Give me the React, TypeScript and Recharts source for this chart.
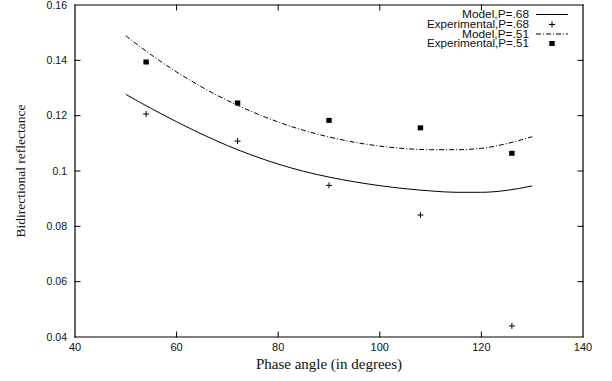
import React from "react";
import { ComposedChart, Line, Scatter, XAxis, YAxis, Legend } from "recharts";

// model curves sampled every 5 degrees
const modelAngles = [50, 55, 60, 65, 70, 75, 80, 85, 90, 95, 100, 105, 110, 115, 120, 125, 130];
const modelP68 = [0.1277, 0.1226, 0.1178, 0.1133, 0.1092, 0.1056, 0.1025, 0.0999, 0.0978, 0.0961, 0.0947, 0.0936, 0.0928, 0.0923, 0.0923, 0.093, 0.0946];
const modelP51 = [0.1489, 0.142, 0.1358, 0.1303, 0.1255, 0.1213, 0.1177, 0.1147, 0.1123, 0.1104, 0.109, 0.1081, 0.1077, 0.1077, 0.1082, 0.1099, 0.1124];

// measured points
const expAngles = [54, 72, 90, 108, 126];
const expP68 = [0.1206, 0.1108, 0.0948, 0.0841, 0.044];
const expP51 = [0.1394, 0.1246, 0.1183, 0.1156, 0.1064];

const xTicks = [40, 60, 80, 100, 120, 140];
const yTicks = [0.04, 0.06, 0.08, 0.1, 0.12, 0.14, 0.16];

const X_MIN = 40;
const X_MAX = 140;
const Y_MIN = 0.04;
const Y_MAX = 0.16;

const W = 612;
const H = 381;
// plot box; margins and axis sizes are derived from it
const PLOT = { left: 75, top: 5, right: 583, bottom: 337 };

const toPoints = (xs: number[], ys: number[]) => xs.map((x, i) => ({ x, y: ys[i] }));

const INK = "#000000";
const SANS = "'Liberation Sans', Arial, sans-serif";
const SERIF = "'Liberation Serif', 'Times New Roman', serif";
const DASHDOT = "5 2 1 2";
const TICK = 5;

function PlusMark(props: { cx?: number; cy?: number }) {
  const { cx, cy } = props;
  if (cx == null || cy == null) return null;
  return (
    <g stroke={INK} strokeWidth={1}>
      <line x1={cx - 3} x2={cx + 3} y1={cy} y2={cy} />
      <line x1={cx} x2={cx} y1={cy - 3} y2={cy + 3} />
    </g>
  );
}

function SquareMark(props: { cx?: number; cy?: number }) {
  const { cx, cy } = props;
  if (cx == null || cy == null) return null;
  return <rect x={cx - 2.7} y={cy - 2.5} width={5.4} height={5} fill={INK} />;
}

// border with mirrored inward ticks (gnuplot style), drawn as an overlay
function Frame() {
  const px = (v: number) => PLOT.left + ((v - X_MIN) / (X_MAX - X_MIN)) * (PLOT.right - PLOT.left);
  const py = (v: number) => PLOT.bottom - ((v - Y_MIN) / (Y_MAX - Y_MIN)) * (PLOT.bottom - PLOT.top);
  const innerX = xTicks.filter((t) => t > X_MIN && t < X_MAX);
  const innerY = yTicks.filter((t) => t > Y_MIN && t < Y_MAX);
  const segs: [number, number, number, number][] = [
    [PLOT.left, PLOT.top, PLOT.right, PLOT.top],
    [PLOT.right, PLOT.top, PLOT.right, PLOT.bottom],
    [PLOT.right, PLOT.bottom, PLOT.left, PLOT.bottom],
    [PLOT.left, PLOT.bottom, PLOT.left, PLOT.top],
  ];
  innerX.forEach((t) => {
    segs.push([px(t), PLOT.bottom, px(t), PLOT.bottom - TICK]);
    segs.push([px(t), PLOT.top, px(t), PLOT.top + TICK]);
  });
  innerY.forEach((t) => {
    segs.push([PLOT.left, py(t), PLOT.left + TICK, py(t)]);
    segs.push([PLOT.right, py(t), PLOT.right - TICK, py(t)]);
  });
  return (
    <svg
      width={W}
      height={H}
      style={{ position: "absolute", left: 0, top: 0, zIndex: 5, pointerEvents: "none", overflow: "visible" }}
    >
      {segs.map(([x1, y1, x2, y2], i) => (
        <line key={i} x1={x1} y1={y1} x2={x2} y2={y2} stroke={INK} strokeWidth={i < 4 ? 1.2 : 1} strokeLinecap="square" />
      ))}
    </svg>
  );
}

// key, text right-aligned against the samples
function KeyBox() {
  const rows = [
    { label: "Model,P=.68", y: 14.5, w: 67, kind: "solid" },
    { label: "Experimental,P=.68", y: 24.5, w: 102, kind: "plus" },
    { label: "Model,P=.51", y: 34, w: 67, kind: "dashdot" },
    { label: "Experimental,P=.51", y: 43.5, w: 102, kind: "square" },
  ];
  return (
    <svg width={W} height={52} style={{ display: "block", pointerEvents: "none" }}>
      {rows.map((r) => (
        <g key={r.label}>
          <text
            x={529}
            y={r.y}
            textAnchor="end"
            dominantBaseline="central"
            fontFamily={SANS}
            fontSize={10}
            fill="#111"
            textLength={r.w}
            lengthAdjust="spacingAndGlyphs"
          >
            {r.label}
          </text>
          {r.kind === "solid" && <line x1={536} x2={568} y1={r.y} y2={r.y} stroke={INK} strokeWidth={1} />}
          {r.kind === "dashdot" && (
            <line x1={536} x2={568} y1={r.y} y2={r.y} stroke={INK} strokeWidth={1} strokeDasharray={DASHDOT} />
          )}
          {r.kind === "plus" && <PlusMark cx={552} cy={r.y} />}
          {r.kind === "square" && <SquareMark cx={552} cy={r.y} />}
        </g>
      ))}
    </svg>
  );
}

export default function App() {
  const fmtY = (v: number) => String(+v.toFixed(2));
  return (
    <div style={{ position: "absolute", left: 0, top: 0, width: W, height: H }}>
      <ComposedChart width={W} height={H} margin={{ top: PLOT.top, right: W - PLOT.right, left: 0, bottom: 0 }}>
        <XAxis
          dataKey="x"
          type="number"
          domain={[X_MIN, X_MAX]}
          ticks={xTicks}
          height={H - PLOT.bottom}
          axisLine={false}
          tickLine={false}
          tickSize={6}
          tickMargin={0}
          tick={{ fontFamily: SANS, fontSize: 11, fill: "#111" }}
          label={{
            value: "Phase angle (in degrees)",
            position: "insideBottom",
            offset: 12,
            style: { fontFamily: SERIF, fontSize: 15, fill: "#111" },
          }}
        />
        <YAxis
          dataKey="y"
          type="number"
          domain={[Y_MIN, Y_MAX]}
          ticks={yTicks}
          width={PLOT.left}
          axisLine={false}
          tickLine={false}
          tickSize={8}
          tickMargin={0}
          tickFormatter={fmtY}
          tick={{ fontFamily: SANS, fontSize: 10.5, fill: "#111" }}
          label={{
            value: "Bidirectional reflectance",
            angle: -90,
            position: "insideLeft",
            offset: 20,
            style: { fontFamily: SERIF, fontSize: 13.5, fill: "#111", textAnchor: "middle" },
          }}
        />
        <Legend
          layout="horizontal"
          verticalAlign="middle"
          align="center"
          wrapperStyle={{ top: 0, left: 0, width: W, height: 52, pointerEvents: "none" }}
          content={() => <KeyBox />}
        />
        <Line
          data={toPoints(modelAngles, modelP68)}
          dataKey="y"
          type="monotone"
          stroke={INK}
          strokeWidth={1}
          dot={false}
          activeDot={false}
          isAnimationActive={false}
        />
        <Scatter data={toPoints(expAngles, expP68)} shape={PlusMark} isAnimationActive={false} />
        <Line
          data={toPoints(modelAngles, modelP51)}
          dataKey="y"
          type="monotone"
          stroke={INK}
          strokeWidth={1}
          strokeDasharray={DASHDOT}
          dot={false}
          activeDot={false}
          isAnimationActive={false}
        />
        <Scatter data={toPoints(expAngles, expP51)} shape={SquareMark} isAnimationActive={false} />
      </ComposedChart>
      <Frame />
    </div>
  );
}
